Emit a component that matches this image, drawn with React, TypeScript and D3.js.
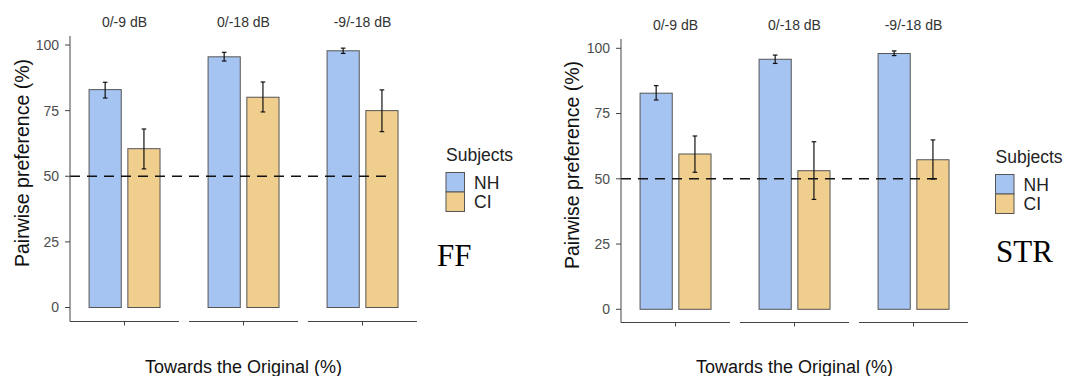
import * as d3 from 'd3';

const W = 1065;
const H = 376;

const conditions = ['0/-9 dB', '0/-18 dB', '-9/-18 dB'];
const subjects = ['NH', 'CI'];
const yTicks = [0, 25, 50, 75, 100];
const chance = 50;

// FF panel
const ffNH = [83, 95.5, 97.8];
const ffNHLow = [79.8, 93.9, 96.8];
const ffNHHigh = [85.8, 97.2, 98.8];
const ffCI = [60.5, 80.1, 75];
const ffCILow = [52.8, 74.5, 67];
const ffCIHigh = [68, 85.9, 82.9];

// STR panel
const strNH = [82.8, 95.8, 98];
const strNHLow = [80.2, 94.2, 97.2];
const strNHHigh = [85.7, 97.4, 99];
const strCI = [59.5, 53.1, 57.3];
const strCILow = [52.5, 42.1, 49.9];
const strCIHigh = [66.4, 64.2, 64.9];

const colors: Record<string, string> = { NH: '#a6c4f1', CI: '#f0ce8e' };
const font = '"Liberation Sans", Arial, sans-serif';

type Layout = {
    label: string;
    axisX: number;
    yTop: number;
    y0: number;
    panelTop: number;
    bottom: number;
    facetY: number;
    yTitleX: number;
    yTitleY: number;
    legendX: number;
    legendY: number;
    tagX: number;
    tagY: number;
    means: number[][];
    lows: number[][];
    highs: number[][];
};

const panels: Layout[] = [
    {
        label: 'FF', axisX: 70, yTop: 45, y0: 307.5, panelTop: 36, bottom: 321.5, facetY: 22,
        yTitleX: 22, yTitleY: 163, legendX: 446, legendY: 161, tagX: 437, tagY: 266,
        means: [ffNH, ffCI], lows: [ffNHLow, ffCILow], highs: [ffNHHigh, ffCIHigh]
    },
    {
        label: 'STR', axisX: 621, yTop: 48.3, y0: 309.3, panelTop: 39, bottom: 322.5, facetY: 25,
        yTitleX: 572, yTitleY: 165, legendX: 995.5, legendY: 163, tagX: 996, tagY: 262,
        means: [strNH, strCI], lows: [strNHLow, strCILow], highs: [strNHHigh, strCIHigh]
    }
];

function Panel({ p }: { p: Layout }) {
    const y = d3.scaleLinear().domain([0, 100]).range([p.y0, p.yTop]);
    const facet = d3
        .scaleBand<string>()
        .domain(conditions)
        .range([p.axisX, p.axisX + 347])
        .paddingInner(10 / 119);
    const pw = facet.bandwidth();
    const inner = d3
        .scaleBand<string>()
        .domain(subjects)
        .range([pw * 0.175, pw * 0.826])
        .paddingInner(0.17);
    const bw = inner.bandwidth();
    const last = conditions[conditions.length - 1];
    const dashEnd = (facet(last) as number) + (inner('CI') as number) + bw - 6;

    return (
        <g fontFamily={font}>
            {/* facet strips */}
            {conditions.map((c) => (
                <text key={c} x={(facet(c) as number) + pw / 2} y={p.facetY} dy="0.35em" textAnchor="middle"
                    fontSize={14} fill="#333">{c}</text>
            ))}

            {/* bars */}
            {conditions.map((c, ci) =>
                subjects.map((s, si) => {
                    const x0 = (facet(c) as number) + (inner(s) as number);
                    const v = p.means[si][ci];
                    return (
                        <rect key={c + s} x={x0} y={y(v)} width={bw} height={y(0) - y(v)}
                            fill={colors[s]} stroke="#555" strokeWidth={1} />
                    );
                })
            )}

            {/* dashed chance line */}
            <line x1={p.axisX} x2={dashEnd} y1={y(chance)} y2={y(chance)} stroke="#111"
                strokeWidth={1.4} strokeDasharray="10,7" />

            {/* error bars */}
            {conditions.map((c, ci) =>
                subjects.map((s, si) => {
                    const cx = (facet(c) as number) + (inner(s) as number) + bw / 2;
                    const lo = y(p.lows[si][ci]);
                    const hi = y(p.highs[si][ci]);
                    return (
                        <g key={'e' + c + s} stroke="#111" strokeWidth={1.2}>
                            <line x1={cx} x2={cx} y1={lo} y2={hi} />
                            <line x1={cx - 2.3} x2={cx + 2.3} y1={lo} y2={lo} />
                            <line x1={cx - 2.3} x2={cx + 2.3} y1={hi} y2={hi} />
                        </g>
                    );
                })
            )}

            {/* y axis */}
            <line x1={p.axisX} x2={p.axisX} y1={p.panelTop} y2={p.bottom} stroke="#444" strokeWidth={1} />
            {yTicks.map((t) => (
                <g key={t}>
                    <line x1={p.axisX - 5} x2={p.axisX} y1={y(t)} y2={y(t)} stroke="#444" />
                    <text x={p.axisX - 11} y={y(t)} dy="0.35em" textAnchor="end" fontSize={14} fill="#4d4d4d">{t}</text>
                </g>
            ))}
            <text transform={`translate(${p.yTitleX},${p.yTitleY}) rotate(-90)`} dy="0.35em" textAnchor="middle"
                fontSize={19.5} fill="#111">Pairwise preference (%)</text>

            {/* x axis per facet */}
            {conditions.map((c) => {
                const x0 = facet(c) as number;
                return (
                    <g key={'x' + c} stroke="#444">
                        <line x1={x0} x2={x0 + pw} y1={p.bottom} y2={p.bottom} />
                        <line x1={x0 + pw / 2} x2={x0 + pw / 2} y1={p.bottom} y2={p.bottom + 4} />
                    </g>
                );
            })}
            <text x={p.axisX + 347 / 2} y={367} dy="0.35em" textAnchor="middle" fontSize={18} fill="#111">
                Towards the Original (%)
            </text>

            {/* legend */}
            <text x={p.legendX} y={p.legendY} fontSize={17.5} fill="#222">Subjects</text>
            {subjects.map((s, i) => (
                <g key={'l' + s}>
                    <rect x={p.legendX} y={p.legendY + 11.5 + i * 19.5} width={18.5} height={19.5}
                        fill={colors[s]} stroke="#555" strokeWidth={1} />
                    <text x={p.legendX + 28} y={p.legendY + 21.5 + i * 19.5} dy="0.35em" fontSize={17.5}
                        fill="#222">{s}</text>
                </g>
            ))}

            <text x={p.tagX} y={p.tagY} fontFamily='"Liberation Serif", "Times New Roman", serif' fontSize={31}
                fill="#000">{p.label}</text>
        </g>
    );
}

export default function App() {
    return (
        <div style={{ position: 'fixed', left: 0, top: 0 }}>
            <svg width={W} height={H} style={{ display: 'block', background: '#fff' }}>
                {panels.map((p) => (
                    <Panel key={p.label} p={p} />
                ))}
            </svg>
        </div>
    );
}
